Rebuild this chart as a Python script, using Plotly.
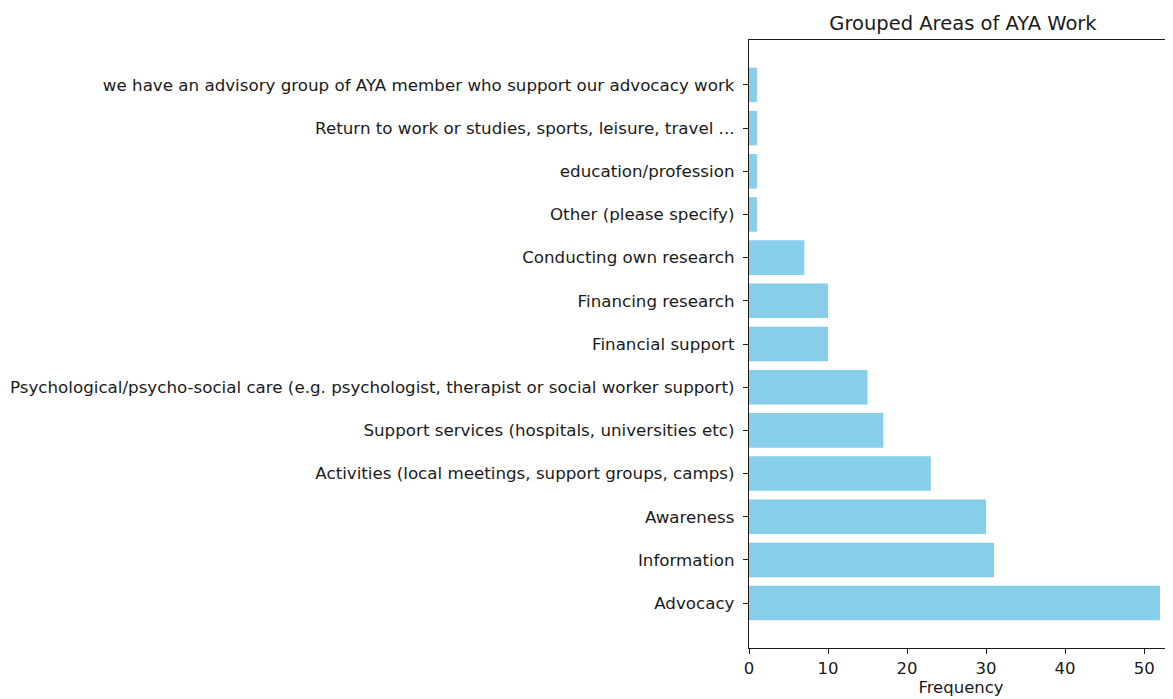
import plotly.graph_objects as go

categories = [
    "Advocacy",
    "Information",
    "Awareness",
    "Activities (local meetings, support groups, camps)",
    "Support services (hospitals, universities etc)",
    "Psychological/psycho-social care (e.g. psychologist, therapist or social worker support)",
    "Financial support",
    "Financing research",
    "Conducting own research",
    "Other (please specify)",
    "education/profession",
    "Return to work or studies, sports, leisure, travel ...",
    "we have an advisory group of AYA member who support our advocacy work",
]
frequencies = [52, 31, 30, 23, 17, 15, 10, 10, 7, 1, 1, 1, 1]
x_ticks = [0, 10, 20, 30, 40, 50]

FONT = "DejaVu Sans"
fig = go.Figure(
    go.Bar(
        x=frequencies,
        y=list(range(len(categories))),
        orientation="h",
        width=0.8,
        marker=dict(color="#87CEEB", line=dict(width=0)),
    )
)

# page has an 8px body margin; compensate so plot area lands at x=749..1173, y=40..648
fig.update_layout(
    width=1165,
    height=691,
    margin=dict(l=741, r=0, t=32, b=51),
    paper_bgcolor="white",
    plot_bgcolor="white",
    font=dict(family=FONT, size=16.7, color="#1a1a1a"),
    showlegend=False,
    title=dict(
        text="Grouped Areas of AYA Work",
        x=(963 - 8) / 1165,
        xanchor="center",
        y=1 - 15 / 691,
        yanchor="middle",
        font=dict(family=FONT, size=19.5, color="#1a1a1a"),
    ),
)

fig.update_xaxes(
    range=[0, 53.65],
    tickvals=x_ticks,
    ticks="outside",
    ticklen=5,
    tickwidth=1.3,
    tickcolor="#1a1a1a",
    showline=True,
    linecolor="#1a1a1a",
    linewidth=1.3,
    mirror=True,
    showgrid=False,
    zeroline=False,
    tickfont=dict(size=16.5),
    title=dict(text="Frequency", font=dict(size=16.5), standoff=2),
)
fig.update_yaxes(
    range=[-1.04, 13.04],
    tickvals=list(range(len(categories))),
    ticktext=categories,
    ticks="outside",
    ticklen=5,
    tickwidth=1.3,
    tickcolor="#1a1a1a",
    ticklabelstandoff=5,
    showline=True,
    linecolor="#1a1a1a",
    linewidth=1.3,
    mirror=False,
    showgrid=False,
    zeroline=False,
    tickfont=dict(size=16.7),
)

fig.write_html("out.html")
